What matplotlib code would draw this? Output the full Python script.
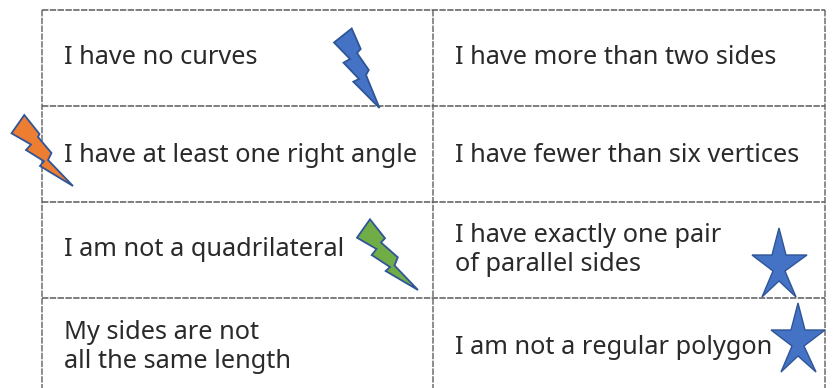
import matplotlib
matplotlib.use("Agg")
import matplotlib.pyplot as plt
from matplotlib.patches import Polygon

W, H = 833, 388
left_col = ["I have no curves", "I have at least one right angle",
            "I am not a quadrilateral", "My sides are not\nall the same length"]
right_col = ["I have more than two sides", "I have fewer than six vertices",
             "I have exactly one pair\nof parallel sides", "I am not a regular polygon"]
grid_x = [42, 433, 825]
grid_y = [10, 106, 202, 298]
row_mid = [58, 155, 250, 347]

fig = plt.figure(figsize=(W / 100, H / 100), dpi=100)
ax = fig.add_axes([0, 0, 1, 1])
ax.set_xlim(0, W)
ax.set_ylim(H, 0)
ax.axis("off")

ls = (0, (4.2, 0.9))
for x in grid_x:
    ax.plot([x, x], [10, H], color="#6e6e6e", lw=1.1, ls=ls, zorder=1)
for y in grid_y:
    ax.plot([42, 825], [y, y], color="#5a5a5a", lw=1.1, ls=ls, zorder=1)

font = dict(family="Noto Sans", fontsize=18.2, color="#2a2a2a", va="center", ha="left", linespacing=1.21)
for y, a, b in zip(row_mid, left_col, right_col):
    ax.text(64, y, a, zorder=3, **font)
    ax.text(455, y, b, zorder=3, **font)

bolts = [
    ("#4472c4", [(351.7,28.5),(334,42.5),(350,59),(343.5,62.7),(359,79),(353.3,81.7),(379.5,108),(366,75),(368.8,70),(357,53),(360.7,49)]),
    ("#ed7d31", [(24.3,115),(11.5,133.3),(31,144.5),(26,150),(44,161.2),(40,166),(73,186),(48,160),(51.5,153),(38,137),(39.5,134)]),
    ("#70ad47", [(370,219.3),(357,237.7),(376.5,249),(371.7,255),(390,267),(385.7,271),(418,290),(394.5,265.5),(397.8,257.3),(381,242.5),(385,238.3)]),
]
for colour, pts in bolts:
    ax.add_patch(Polygon(pts, closed=True, fc=colour, ec="#2f5597", lw=1.3, joinstyle="miter", zorder=4))

stars = [
    [(779,228),(786,255),(807,255),(785,271),(796,297),(779,281),(762,297),(773,271),(752,255),(772,255)],
    [(798,303),(805,330),(825,330),(804,346),(816,372),(798,356),(781,372),(792,346),(771,330),(791,330)],
]
for pts in stars:
    ax.add_patch(Polygon(pts, closed=True, fc="#4472c4", ec="#2f5597", lw=1.0, joinstyle="miter", zorder=4))

fig.savefig("out.png", dpi=100, facecolor="white")
